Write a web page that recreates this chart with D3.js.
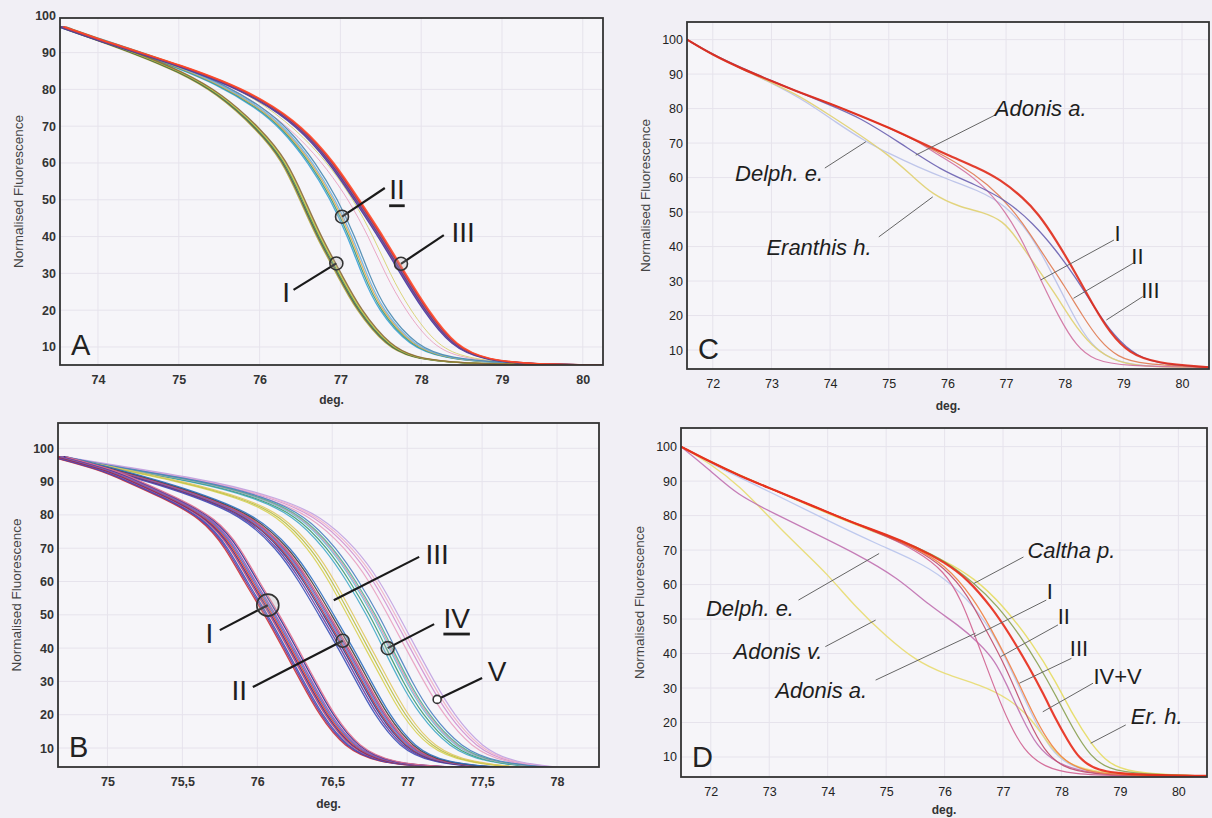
<!DOCTYPE html>
<html>
<head>
<meta charset="utf-8">
<script src="https://cdn.jsdelivr.net/npm/d3@7"></script>
<style>
  html, body { margin: 0; padding: 0; background: #f1eff5; }
  svg { display: block; }
  text { font-family: "Liberation Sans", Arial, Helvetica, sans-serif; }
</style>
</head>
<body>
<svg id="fig" width="1212" height="818"></svg>
<script>
// ---- tick values ----
const yTicks = [10, 20, 30, 40, 50, 60, 70, 80, 90, 100];
const aTicksX = [74, 75, 76, 77, 78, 79, 80];
const bTicksX = [75, 75.5, 76, 76.5, 77, 77.5, 78];
const cdTicksX = [72, 73, 74, 75, 76, 77, 78, 79, 80];

// ---- panel A: melt curves [deg, normalised fluorescence] ----
const aCurveI = [[73.55, 97], [74, 93.5], [74.5, 89.5], [75, 85], [75.5, 79], [76, 69], [76.3, 61], [76.53, 50], [76.73, 40], [76.98, 30], [77.22, 20], [77.6, 10], [77.9, 7.2], [78.3, 5.9], [78.9, 5.3], [80.2, 5.1]];
const aCurveII = [[73.55, 97], [74, 93.5], [74.5, 90], [75, 86], [75.5, 81.5], [76, 75], [76.3, 69.5], [76.65, 60], [76.92, 50], [77.13, 40], [77.3, 30], [77.5, 20], [77.9, 10], [78.3, 7], [79, 5.5], [80.2, 5.1]];
const aCurveIII = [[73.55, 97], [74, 93.5], [74.5, 90], [75, 86.5], [75.5, 82.5], [76, 77.5], [76.5, 70], [76.9, 60], [77.2, 50], [77.5, 40], [77.77, 30], [78.05, 20], [78.4, 10], [78.8, 6.5], [79.3, 5.4], [80.2, 5.1]];
// thin outlier replicates lying between bundles II and III
const aCurveMid = [[73.55, 97], [74, 93.5], [74.5, 90], [75, 86.2], [75.5, 82], [76, 76], [76.5, 67], [76.85, 58], [77.1, 50], [77.35, 40], [77.55, 30], [77.8, 20], [78.15, 10], [78.5, 7], [79.1, 5.4], [80.2, 5.1]];
// replicate offsets within each genotype bundle (deg)
const aShiftI = [-0.03, -0.015, 0, 0.015, 0.03];
const aShiftII = [-0.04, -0.02, 0, 0.02, 0.05];
const aShiftIII = [-0.03, -0.015, 0, 0.01, 0.02, 0.035];
const aShiftMid = [0, 0.06];

// ---- panel B ----
const bCurveI = [[74.67, 97.5], [75, 93.5], [75.15, 90.5], [75.4, 85.5], [75.68, 79], [75.84, 70], [75.96, 60], [76.1, 50], [76.22, 40], [76.34, 30], [76.46, 20], [76.63, 10], [76.85, 5.6], [77.2, 4.1], [78.13, 3.5]];
const bCurveII = [[74.67, 97.5], [75, 94], [75.32, 90], [75.6, 86], [75.94, 80], [76.18, 70], [76.33, 60], [76.46, 50], [76.59, 40], [76.71, 30], [76.83, 20], [77.0, 10], [77.2, 5.6], [77.6, 3.9], [78.13, 3.5]];
const bCurveIII = [[74.67, 97.5], [75, 94.5], [75.5, 90], [75.9, 85], [76.15, 80], [76.36, 70], [76.5, 60], [76.62, 50], [76.74, 40], [76.86, 30], [76.98, 20], [77.16, 10], [77.4, 5.6], [77.8, 3.9], [78.13, 3.5]];
const bCurveIV = [[74.67, 97.5], [75, 94.5], [75.63, 90], [76, 85.5], [76.28, 80], [76.49, 70], [76.64, 60], [76.77, 50], [76.88, 40], [76.99, 30], [77.12, 20], [77.32, 10], [77.55, 5.6], [78, 3.8], [78.13, 3.5]];
const bCurveV = [[74.67, 97.5], [75, 95], [75.7, 90], [76.1, 85], [76.38, 80], [76.62, 70], [76.78, 60], [76.9, 50], [77.02, 40], [77.14, 30], [77.27, 20], [77.46, 10], [77.67, 5.6], [78.05, 3.8], [78.13, 3.5]];
const bShiftI = [-0.05, -0.04, -0.03, -0.015, -0.005, 0.005, 0.015, 0.025, 0.04, 0.05];
const bShiftII = [-0.05, -0.035, -0.02, -0.01, 0, 0.01, 0.02, 0.035, 0.05];
const bShiftIII = [-0.02, 0, 0.02];
const bShiftIV = [-0.04, -0.02, 0, 0.01, 0.02, 0.04];
const bShiftV = [-0.03, 0, 0.02, 0.04];

// ---- panel C ----
const cCurveIII = [[71.56, 100], [72, 95.5], [72.5, 91.5], [73, 88], [73.5, 84.5], [74, 81.5], [74.5, 78], [75, 74.5], [75.5, 70.5], [76, 66.5], [76.5, 63], [76.9, 59.5], [77.3, 54], [77.55, 49.5], [77.85, 42], [78.18, 32.5], [78.5, 22.5], [78.77, 15], [79.1, 9], [79.55, 6.2], [80.46, 5]];
const cCurveII = [[71.56, 100], [72, 95.5], [72.5, 91.5], [73, 88], [73.5, 84.5], [74, 81.5], [74.5, 78], [75, 74.5], [75.5, 70.5], [75.75, 68], [76.2, 64], [76.7, 58], [77.1, 51], [77.4, 44], [77.7, 36], [78, 28.5], [78.3, 20], [78.6, 12.5], [78.9, 8], [79.3, 5.8], [80.46, 5]];
const cCurveI = [[71.56, 100], [72, 95.5], [72.5, 91.5], [73, 88], [73.5, 84.5], [74, 81.5], [74.5, 78], [75, 74.5], [75.5, 70.5], [75.75, 67.5], [76.2, 63], [76.6, 58], [77, 50], [77.3, 41], [77.6, 30], [77.9, 19.5], [78.2, 11], [78.5, 7], [79, 5.3], [80.46, 5]];
const cAdonisA = [[71.56, 100], [72, 95.5], [73, 88], [74, 81], [74.5, 77.5], [75.2, 70], [75.9, 62], [76.47, 58], [77, 53.5], [77.46, 46.8], [77.85, 39], [78.18, 31.2], [78.5, 22.5], [78.84, 14], [79.23, 8], [79.7, 5.7], [80.46, 5]];
const cEranthis = [[71.56, 100], [72, 95.5], [73, 87.5], [73.5, 83.5], [74, 78], [74.5, 72.5], [75, 66.5], [75.4, 60.5], [75.75, 55], [76.2, 51.5], [76.6, 50], [76.95, 47.5], [77.2, 42], [77.5, 34.5], [77.85, 26], [78.1, 19], [78.45, 11], [78.9, 6.2], [79.5, 5], [80.46, 5]];
const cDelph = [[71.56, 100], [72, 95.5], [73, 87.5], [73.6, 82], [74.1, 76], [74.6, 70.5], [75, 67], [75.5, 63], [76, 59.5], [76.5, 56.5], [77, 52], [77.4, 44], [77.7, 35], [78, 25], [78.3, 15], [78.6, 9], [79, 6], [79.6, 5], [80.46, 5]];

// ---- panel D ----
const dCurveIVV = [[71.49, 100], [72, 95.5], [72.5, 91.5], [73, 88], [73.5, 84.5], [74, 81], [74.5, 77.5], [75, 74.5], [75.5, 71], [76, 66.5], [76.4, 61.5], [76.8, 53.5], [77.1, 46], [77.45, 36], [77.7, 28], [77.9, 21], [78.1, 15], [78.3, 9.5], [78.6, 6], [79.2, 4.8], [80.49, 4.5]];
const dCurveIII = [[71.49, 100], [72, 95.5], [72.5, 91.5], [73, 88], [73.5, 84.5], [74, 81], [74.5, 77.5], [75, 74.5], [75.5, 70.5], [76, 66], [76.5, 56], [76.8, 47], [77.05, 39], [77.28, 31], [77.5, 23], [77.75, 15], [78.05, 8.5], [78.5, 5.3], [79.2, 4.7], [80.49, 4.5]];
const dCurveII = [[71.49, 100], [72, 95.5], [72.5, 91.5], [73, 88], [73.5, 84.5], [74, 81], [74.5, 77.5], [75, 74], [75.5, 70.5], [76, 65], [76.4, 57], [76.7, 47], [76.96, 39], [77.2, 30], [77.45, 20], [77.7, 12], [78, 7], [78.5, 5], [79.5, 4.5], [80.49, 4.5]];
const dCurveI = [[71.49, 100], [72, 95.5], [72.5, 91.5], [73, 88], [73.5, 84.5], [74, 81], [74.5, 77.5], [75, 74], [75.5, 70], [76, 64], [76.3, 55], [76.5, 46], [76.7, 37], [76.9, 28], [77.1, 20], [77.35, 12], [77.7, 7], [78.2, 5], [79, 4.5], [80.49, 4.5]];
const dCaltha = [[71.49, 100], [72, 95.5], [72.5, 91.5], [73, 88], [73.5, 84.5], [74, 81], [74.5, 77.5], [75, 74.5], [75.5, 71], [76, 67], [76.5, 60.5], [76.9, 54], [77.3, 45], [77.6, 37], [77.9, 28], [78.2, 18], [78.5, 10], [78.8, 6.5], [79.3, 5], [80.49, 4.5]];
const dEranthis = [[71.49, 100], [72, 95.5], [73, 88], [74, 80.5], [75, 74], [75.5, 70.5], [76, 67], [76.5, 62], [77, 54], [77.5, 43], [77.9, 32], [78.2, 22], [78.5, 14], [78.8, 8], [79.2, 5.5], [80, 4.7], [80.49, 4.5]];
const dDelph = [[71.49, 100], [72, 95], [73, 87], [74, 78.5], [74.88, 71.5], [75.5, 67], [76, 62], [76.5, 54], [76.9, 44], [77.2, 33], [77.5, 22], [77.8, 12], [78.2, 6.5], [78.8, 5], [80.49, 4.5]];
const dAdonisV = [[71.49, 100], [72, 95], [72.5, 88.5], [73, 79.5], [73.5, 71], [74, 63], [74.5, 53], [75, 45], [75.5, 38], [76, 34], [76.6, 31], [77.1, 27], [77.5, 21], [77.8, 13], [78.1, 8], [78.5, 6], [79, 5], [80.49, 4.5]];
const dAdonisA = [[71.49, 100], [72, 93], [72.45, 86], [73.1, 80.5], [73.76, 75], [74.48, 69], [75.2, 62], [75.73, 54], [76.26, 48], [76.59, 43], [76.86, 38], [77.05, 31.5], [77.32, 21.5], [77.58, 13], [77.9, 8.3], [78.4, 5.5], [79, 4.8], [80.49, 4.5]];

// ---- callout labels: text anchor and leader line, in data units ----
const aNotes = [
  { text: "I", at: [76.33, 24.7], from: [76.95, 32.7], to: [76.42, 25.5] },
  { text: "II", at: [77.7, 52.7], from: [77.02, 45.4], to: [77.55, 53.2], underline: true },
  { text: "III", at: [78.52, 41], from: [77.75, 32.6], to: [78.28, 40.4] }
];
const bNotes = [
  { text: "I", at: [75.68, 44.5], from: [76.07, 52.9], to: [75.75, 45.4] },
  { text: "II", at: [75.88, 27.4], from: [76.57, 42.2], to: [75.97, 28.3] },
  { text: "III", at: [77.2, 68], from: [76.51, 54.4], to: [77.08, 67.4] },
  { text: "IV", at: [77.33, 49], from: [76.87, 40], to: [77.18, 47.2], underline: true },
  { text: "V", at: [77.6, 32.9], from: [77.2, 24.6], to: [77.5, 31] }
];
const cNotes = [
  { text: "Adonis a.", at: [77.59, 80.1], from: [75.46, 66.5], to: [76.81, 78.1], italic: true },
  { text: "Delph. e.", at: [73.13, 61.2], from: [74.61, 70.4], to: [73.91, 62.75], italic: true },
  { text: "Eranthis h.", at: [73.81, 39.6], from: [75.75, 54.4], to: [74.83, 42.8], italic: true },
  { text: "I", at: [78.9, 43.9], from: [77.59, 30.3], to: [78.84, 41.9] },
  { text: "II", at: [79.24, 37], from: [78.15, 25], to: [79.17, 35.2] },
  { text: "III", at: [79.46, 27.4], from: [78.71, 18.7], to: [79.33, 25.5] }
];
const dNotes = [
  { text: "Caltha p.", at: [78.17, 70], from: [76.5, 60.3], to: [77.35, 68], italic: true },
  { text: "I", at: [77.8, 57.9], from: [76.5, 44.9], to: [77.74, 55.5] },
  { text: "II", at: [78.04, 50.7], from: [76.96, 39.1], to: [77.94, 48.3] },
  { text: "III", at: [78.3, 41.5], from: [77.28, 31.4], to: [78.17, 38.6] },
  { text: "IV+V", at: [78.96, 33.3], from: [77.68, 23.1], to: [78.54, 31.4] },
  { text: "Er. h.", at: [79.63, 21.7], from: [78.5, 14], to: [79.1, 19.3], italic: true },
  { text: "Delph. e.", at: [72.67, 53.1], from: [74.88, 69], to: [73.5, 55.5], italic: true },
  { text: "Adonis v.", at: [73.15, 40.5], from: [74.82, 49.7], to: [73.96, 42], italic: true },
  { text: "Adonis a.", at: [73.89, 29.4], from: [76.53, 45.9], to: [74.82, 32.3], italic: true }
];

// ---- drawing ----
const svg = d3.select("#fig");

// one line per replicate: base curve shifted along the temperature axis
function bundle(pts, shifts, colors, width) {
  return shifts.map((dt, i) => ({ pts, dt, color: colors[i % colors.length], width }));
}
function single(pts, color, width) {
  return { pts, dt: 0, color, width };
}

const panels = [
  {
    id: "A", l: 60, t: 18, r: 603, b: 365, xDom: [73.53, 80.25], yDom: [5.1, 99.4],
    xTicks: aTicksX, fmt: d3.format("d"), bold: true, notes: aNotes, degDy: 39,
    noteSize: 28, noteLine: 2.2, noteColor: "#1a1a1a",
    rings: { "I": 6.5, "II": 6.5, "III": 6.5 },
    series: [
      ...bundle(aCurveMid, aShiftMid, ["#e8a0c0", "#d8d070"], 1),
      ...bundle(aCurveII, aShiftII, ["#3aa0d8", "#3a9a7a", "#e0a848", "#70b0e0", "#4a8ab0"], 1.3),
      ...bundle(aCurveI, aShiftI, ["#b0a838", "#505050", "#4a9a4a", "#d6c64a", "#8a6a3a"], 1.4),
      ...bundle(aCurveIII, aShiftIII, ["#3a3aa0", "#7a3a9a", "#404068", "#9060b0", "#e03020", "#ff4a28"], 1.5)
    ]
  },
  {
    id: "B", l: 58, t: 423, b: 767, r: 599, xDom: [74.67, 78.28], yDom: [4.3, 107.6],
    xTicks: bTicksX, fmt: d => String(d).replace(".", ","), bold: true, notes: bNotes, degDy: 41,
    noteSize: 28, noteLine: 2.2, noteColor: "#1a1a1a",
    rings: { "I": 11, "II": 6.5, "IV": 6.5, "V": 4 },
    series: [
      ...bundle(bCurveV, bShiftV, ["#e8a0c0", "#d090d0", "#f0b0c8", "#c0a0e0"], 1.2),
      ...bundle(bCurveIV, bShiftIV, ["#40a8c8", "#3a9a70", "#60c0d8", "#d890b0", "#50b090", "#4a80c0"], 1.2),
      ...bundle(bCurveIII, bShiftIII, ["#d8d050", "#b8c040", "#e0c860"], 1.2),
      ...bundle(bCurveII, bShiftII, ["#3a50b8", "#6a3a9a", "#2a3a90", "#c03040", "#5a80d0", "#8a4aa0", "#d05070", "#404040", "#3070c0"], 1.3),
      ...bundle(bCurveI, bShiftI, ["#d03030", "#6a3a9a", "#3a50b8", "#c04070", "#4a2a80", "#e23a2a", "#5070c8", "#9a50a8", "#303090", "#e07090"], 1.3)
    ]
  },
  {
    id: "C", l: 687, t: 22, r: 1209, b: 369, xDom: [71.56, 80.46], yDom: [4.5, 105.1],
    xTicks: cdTicksX, fmt: d3.format("d"), bold: false, notes: cNotes, degDy: 41,
    noteSize: 22, noteLine: 1, noteColor: "#666",
    rings: {},
    series: [
      single(cDelph, "#b8c0e8", 1.3),
      single(cEranthis, "#e0d070", 1.4),
      single(cCurveI, "#d070a0", 1.2),
      single(cCurveII, "#e07a50", 1.2),
      single(cAdonisA, "#6a60b0", 1.3),
      single(cCurveIII, "#e02a18", 2.2)
    ]
  },
  {
    id: "D", l: 681, t: 428, r: 1207, b: 777, xDom: [71.49, 80.49], yDom: [4.2, 105.4],
    xTicks: cdTicksX, fmt: d3.format("d"), bold: false, notes: dNotes, degDy: 37,
    noteSize: 22, noteLine: 1, noteColor: "#666",
    rings: {},
    series: [
      single(dDelph, "#b8c4ec", 1.3),
      single(dAdonisV, "#e8dc70", 1.4),
      single(dAdonisA, "#c070b0", 1.3),
      single(dEranthis, "#e6dc60", 1.4),
      single(dCaltha, "#8aa050", 1.3),
      single(dCurveI, "#d06090", 1.2),
      single(dCurveII, "#c04a6a", 1.2),
      single(dCurveIII, "#f08040", 1.3),
      single(dCurveIVV, "#e82a18", 2.2)
    ]
  }
];

panels.forEach(p => {
  const x = d3.scaleLinear().domain(p.xDom).range([p.l, p.r]);
  const y = d3.scaleLinear().domain(p.yDom).range([p.b, p.t]);
  const g = svg.append("g").attr("class", "panel-" + p.id);

  // plot background
  g.append("rect")
    .attr("x", p.l).attr("y", p.t)
    .attr("width", p.r - p.l).attr("height", p.b - p.t)
    .attr("fill", "#f6f5f9");

  // faint grid
  g.append("g").selectAll("line")
    .data(p.xTicks).join("line")
    .attr("x1", d => x(d)).attr("x2", d => x(d))
    .attr("y1", p.t).attr("y2", p.b)
    .attr("stroke", "#e6e3ec").attr("stroke-width", 1);
  g.append("g").selectAll("line")
    .data(yTicks.filter(d => d < p.yDom[1])).join("line")
    .attr("x1", p.l).attr("x2", p.r)
    .attr("y1", d => y(d)).attr("y2", d => y(d))
    .attr("stroke", "#e6e3ec").attr("stroke-width", 1);

  // curves, clipped to the frame
  g.append("clipPath").attr("id", "clip" + p.id)
    .append("rect")
    .attr("x", p.l).attr("y", p.t)
    .attr("width", p.r - p.l).attr("height", p.b - p.t);

  g.append("g").attr("clip-path", "url(#clip" + p.id + ")")
    .selectAll("path")
    .data(p.series).join("path")
    .attr("d", s => d3.line()
      .x(d => x(d[0] + s.dt))
      .y(d => y(d[1]))
      .curve(d3.curveBasis)(s.pts))
    .attr("fill", "none")
    .attr("stroke", s => s.color)
    .attr("stroke-width", s => s.width)
    .attr("stroke-opacity", 0.9);

  // frame
  g.append("rect")
    .attr("x", p.l).attr("y", p.t)
    .attr("width", p.r - p.l).attr("height", p.b - p.t)
    .attr("fill", "none").attr("stroke", "#333").attr("stroke-width", 1.8);

  // axes (labels only)
  const weight = p.bold ? "bold" : "normal";
  const xAxis = g.append("g")
    .attr("transform", `translate(0,${p.b})`)
    .call(d3.axisBottom(x).tickValues(p.xTicks).tickFormat(p.fmt).tickSize(0).tickPadding(10));
  const yAxis = g.append("g")
    .attr("transform", `translate(${p.l},0)`)
    .call(d3.axisLeft(y).tickValues(yTicks).tickSize(0).tickPadding(4));
  [xAxis, yAxis].forEach(a => {
    a.select(".domain").remove();
    a.selectAll("text")
      .attr("fill", p.bold ? "#333" : "#222")
      .style("font-size", "12.5px")
      .style("font-weight", weight)
      .style("font-family", "'Liberation Sans', Arial, sans-serif");
  });

  g.append("text")
    .attr("x", (p.l + p.r) / 2).attr("y", p.b + p.degDy)
    .attr("text-anchor", "middle")
    .attr("fill", "#333")
    .style("font-size", "12px").style("font-weight", "bold")
    .text("deg.");

  g.append("text")
    .attr("transform", `translate(${p.l - 42},${(p.t + p.b) / 2}) rotate(-90)`)
    .attr("text-anchor", "middle")
    .attr("dominant-baseline", "central")
    .attr("fill", "#444")
    .style("font-size", "13.5px")
    .text("Normalised Fluorescence");

  // panel letter
  g.append("text")
    .attr("x", p.l + 11).attr("y", p.b - 10)
    .attr("fill", "#222")
    .style("font-size", "29px")
    .text(p.id);

  // callouts
  const notes = g.append("g");
  p.notes.forEach(n => {
    notes.append("line")
      .attr("x1", x(n.from[0])).attr("y1", y(n.from[1]))
      .attr("x2", x(n.to[0])).attr("y2", y(n.to[1]))
      .attr("stroke", p.noteColor).attr("stroke-width", p.noteLine);
    const r = p.rings[n.text];
    if (r) {
      notes.append("circle")
        .attr("cx", x(n.from[0])).attr("cy", y(n.from[1])).attr("r", r)
        .attr("fill", r < 5 ? "#fff" : "rgba(180,180,180,0.25)")
        .attr("stroke", "#333").attr("stroke-width", 1.6);
    }
    notes.append("text")
      .attr("x", x(n.at[0])).attr("y", y(n.at[1]))
      .attr("text-anchor", "middle")
      .attr("dominant-baseline", "central")
      .attr("fill", "#1e1e1e")
      .style("font-size", p.noteSize + "px")
      .style("font-style", n.italic ? "italic" : "normal")
      .style("text-decoration", n.underline ? "underline" : "none")
      .text(n.text);
  });
});
</script>
</body>
</html>
